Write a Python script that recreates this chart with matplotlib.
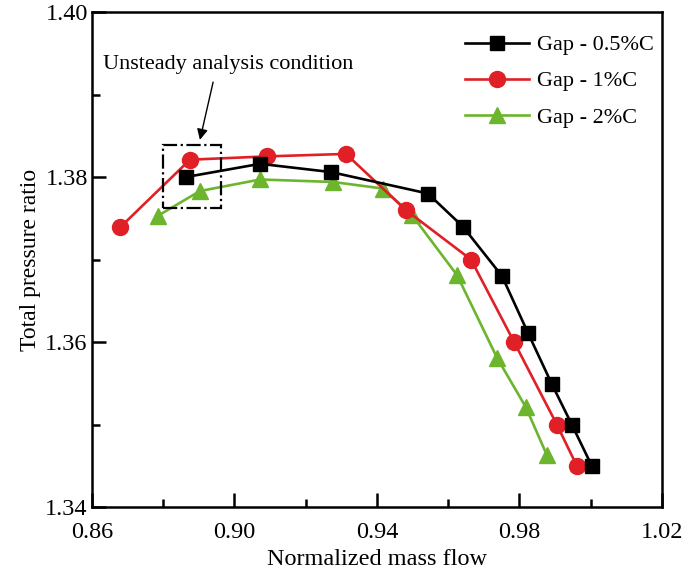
import matplotlib
matplotlib.use("Agg")
import matplotlib.pyplot as plt
from matplotlib.ticker import FixedLocator, MultipleLocator, FormatStrFormatter
from matplotlib.patches import Rectangle

plt.rcParams['font.family'] = ['Liberation Serif', 'DejaVu Serif']

# ==============================================================================
# data

flow_05 = [0.8864, 0.9072, 0.9271, 0.9543, 0.9641, 0.9751, 0.9824, 0.9891, 0.9947, 1.0003]
ratio_05 = [1.3800, 1.3816, 1.3806, 1.3780, 1.3740, 1.3680, 1.3611, 1.3549, 1.3500, 1.3450]

flow_1 = [0.8679, 0.8875, 0.9091, 0.9313, 0.9481, 0.9664, 0.9785, 0.9905, 0.9961]
ratio_1 = [1.3739, 1.3821, 1.3825, 1.3828, 1.3760, 1.3700, 1.3600, 1.3500, 1.3450]

flow_2 = [0.8785, 0.8903, 0.9072, 0.9277, 0.9417, 0.9498, 0.9625, 0.9737, 0.9818, 0.9877]
ratio_2 = [1.3753, 1.3783, 1.3797, 1.3794, 1.3786, 1.3754, 1.3681, 1.3581, 1.3521, 1.3463]

labels = ["Gap - 0.5%C", "Gap - 1%C", "Gap - 2%C"]

x_ticks = [0.86, 0.90, 0.94, 0.98, 1.02]
y_ticks = [1.34, 1.36, 1.38, 1.40]

# box around the unsteady analysis point
box_x = (0.8799, 0.8962)
box_y = (1.3762, 1.3839)

# ==============================================================================

fig = plt.figure(figsize=(6.85, 5.72), dpi=100)
ax = fig.add_axes([0.1343, 0.1136, 0.832, 0.8654])

ax.plot(flow_05, ratio_05, color="black", lw=1.9, marker="s", ms=9.5,
        label=labels[0], zorder=3)
ax.plot(flow_1, ratio_1, color="#e01f26", lw=1.9, marker="o", ms=11.5,
        label=labels[1], zorder=2)
ax.plot(flow_2, ratio_2, color="#6cb52d", lw=1.9, marker="^", ms=11.5,
        label=labels[2], zorder=1)

rect = Rectangle((box_x[0], box_y[0]), box_x[1] - box_x[0], box_y[1] - box_y[0],
                 fill=False, ec="black", lw=1.6, ls="-.", zorder=4)
ax.add_patch(rect)

ax.text(0.8982, 1.3936, "Unsteady analysis condition", ha="center",
        va="center", fontsize=16)
ax.annotate("", xy=(0.8903, 1.3845), xytext=(0.8940, 1.3915),
            arrowprops=dict(arrowstyle="-|>", color="black", lw=1.0,
                            mutation_scale=16, shrinkA=0, shrinkB=0))

ax.set_xlim(0.86, 1.02)
ax.set_ylim(1.34, 1.40)
ax.xaxis.set_major_locator(FixedLocator(x_ticks))
ax.xaxis.set_minor_locator(MultipleLocator(0.02))
ax.yaxis.set_major_locator(FixedLocator(y_ticks))
ax.yaxis.set_minor_locator(MultipleLocator(0.01))
ax.xaxis.set_major_formatter(FormatStrFormatter("%.2f"))
ax.yaxis.set_major_formatter(FormatStrFormatter("%.2f"))

ax.tick_params(which="both", direction="in", width=1.8, labelsize=17.5)
ax.tick_params(which="major", length=10)
ax.tick_params(which="minor", length=5.5)
ax.tick_params(axis="x", which="major", pad=11)
ax.tick_params(axis="y", which="major", pad=3)
for s in ax.spines.values():
    s.set_linewidth(1.8)

ax.set_xlabel("Normalized mass flow", fontsize=17.5, labelpad=4)
ax.set_ylabel("Total pressure ratio", fontsize=17, labelpad=3)

ax.legend(loc="upper right", frameon=False, fontsize=16, handlelength=2.9,
          handletextpad=0.35, labelspacing=0.7, borderaxespad=0.4,
          bbox_to_anchor=(1.0175, 0.99))

fig.savefig("out.png", dpi=100)
